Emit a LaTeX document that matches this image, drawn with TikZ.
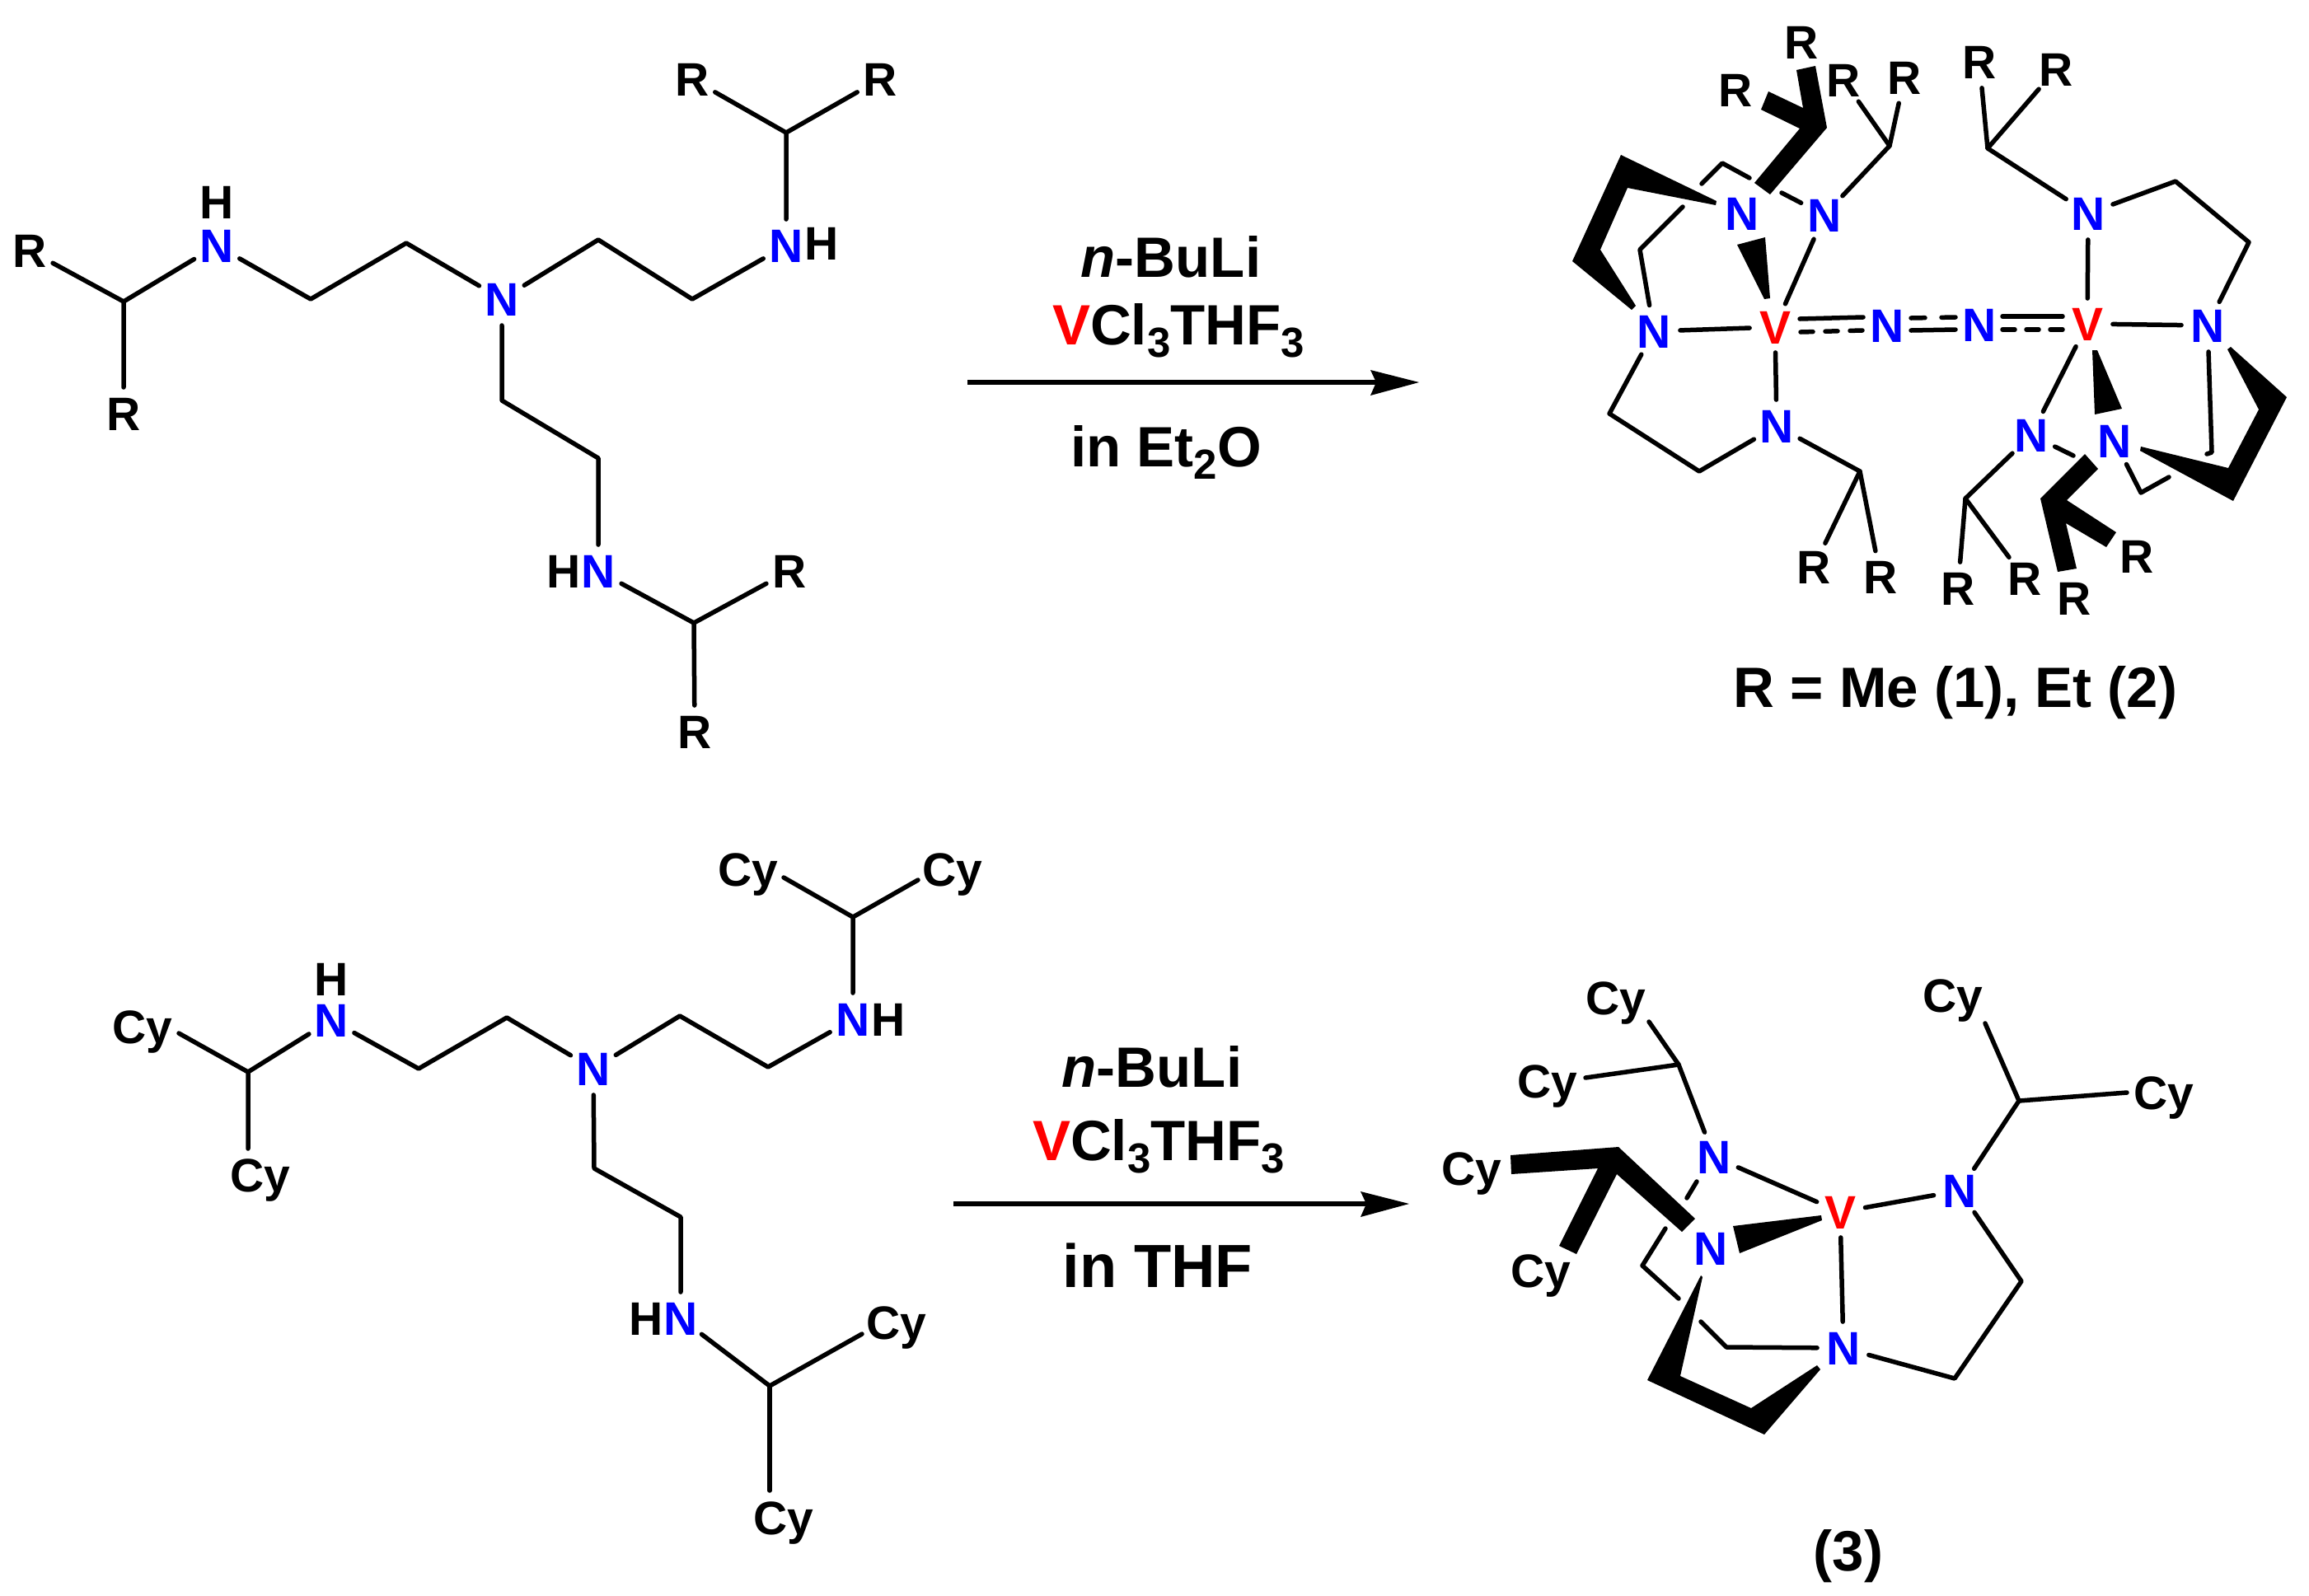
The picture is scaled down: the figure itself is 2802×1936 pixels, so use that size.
\documentclass[tikz,border=0pt]{standalone}
\usepackage{fontspec}
\setmainfont{Liberation Sans}
\tikzset{
  atom/.style={circle,inner sep=0pt,outer sep=3pt,text height=41pt,text depth=0pt,align=center,
    font=\fontsize{57}{60}\selectfont\bfseries},
  natom/.style={atom,text=blue},
  vatom/.style={atom,text=red},
  bond/.style={line width=5.5pt,line cap=round,line join=round},
  rxn/.style={anchor=base,inner sep=0pt,font=\fontsize{69}{72}\selectfont\bfseries},
  rxnarrow/.style={line width=6.5pt}
}
\newcommand{\subnum}[1]{\raisebox{-15pt}{\fontsize{51}{51}\selectfont #1}}
\begin{document}
\begin{tikzpicture}[x=1pt,y=-1pt]
\useasboundingbox (0,0) rectangle (2802,1936);
% ---------- ligand A
\node[atom] (ar1) at (36,304) {R};
\node[atom] (ar2) at (150,502) {R};
\node[atom] (ah1) at (263,245) {H};
\node[natom] (an1) at (263,298) {N};
\node[natom] (anc) at (609,363) {N};
\node[natom] (an2) at (954,298) {N};
\node[atom] (ah2) at (997,295) {H};
\node[atom] (ar3) at (840,96) {R};
\node[atom] (ar4) at (1068,96) {R};
\node[atom] (ah3) at (684,693) {H};
\node[natom] (an3) at (726,693) {N};
\node[atom] (ar5) at (958,693) {R};
\node[atom] (ar6) at (843,888) {R};
\coordinate (ac1) at (150,366);
\coordinate (ac2) at (377,363);
\coordinate (ac3) at (493,295);
\coordinate (ac4) at (726,291);
\coordinate (ac5) at (840,363);
\coordinate (ac6) at (954,161);
\coordinate (ac7) at (609,486);
\coordinate (ac8) at (726,556);
\coordinate (ac9) at (842,756);
\draw[bond] (ar1) -- (ac1) -- (ar2);
\draw[bond] (ac1) -- (an1);
\draw[bond] (an1) -- (ac2) -- (ac3) -- (anc);
\draw[bond] (anc) -- (ac4) -- (ac5) -- (an2);
\draw[bond] (an2) -- (ac6) -- (ar3);
\draw[bond] (ac6) -- (ar4);
\draw[bond] (anc) -- (ac7) -- (ac8) -- (an3);
\draw[bond] (an3) -- (ac9) -- (ar5);
\draw[bond] (ac9) -- (ar6);
% ---------- arrow 1
\node[rxn] (t1a) at (1421,336) {\textit{n}-BuLi};
\node[rxn] (t1b) at (1430,418) {{\color{red}V}Cl\subnum{3}THF\subnum{3}};
\node[rxn] (t1c) at (1415,566) {in Et\subnum{2}O};
\coordinate (a1s) at (1174,464);
\coordinate (a1e) at (1670,464);
\draw[rxnarrow] (a1s) -- (a1e);
\fill (1722,464) -- (1663,449) -- (1670,464) -- (1663,480) -- cycle;
% ---------- complex 1, left
\node[natom] (na) at (2114,259) {N};
\node[natom] (nb) at (2214,261) {N};
\node[vatom] (v1) at (2154,397) {V};
\node[natom] (nc) at (2007,402) {N};
\node[natom] (nd) at (2290,395) {N};
\node[natom] (ne) at (2156,517) {N};
\node[atom] (r1) at (2186,51) {R};
\node[atom] (r2) at (2106,109) {R};
\node[atom] (r3) at (2237,97) {R};
\node[atom] (r4) at (2311,94) {R};
\node[atom] (r5) at (2201,688) {R};
\node[atom] (r6) at (2282,700) {R};
\coordinate (c1) at (2293,177);
\coordinate (c2) at (2257,572);
\coordinate (c3) at (2062,572);
\coordinate (c4) at (1953,502);
\coordinate (c5) at (1990,303);
\coordinate (s1) at (2042,251);
\coordinate (s2) at (2065,223);
\coordinate (s3) at (2090,198);
\coordinate (s4) at (2123,216);
\coordinate (s5) at (2162,234);
\coordinate (dbl1) at (2184,387);
\coordinate (dbl2) at (2261,385);
\coordinate (dbl3) at (2185,403);
\coordinate (dbl4) at (2260,401);
\fill (1967,188) -- (2083,244) -- (2082,249) -- (1975,228) -- (1942,303) -- (1985,371) -- (1980,376) -- (1908,317) -- cycle;
\fill (2180,85) -- (2203,80) -- (2217,155) -- (2148,236) -- (2129,222) -- (2184,156) -- (2137,133) -- (2146,111) -- (2188,131) -- cycle;
\fill (2108,297) -- (2142,288) -- (2148,362) -- (2141,363) -- cycle;
\draw[bond] (s2) -- (s3) -- (s4);
\draw[bond] (s5) -- (nb);
\draw[bond] (nb) -- (c1) -- (r4);
\draw[bond] (c1) -- (r3);
\draw[bond] (nb) -- (v1);
\draw[bond] (nc) -- (v1);
\draw[bond] (s1) -- (c5) -- (nc);
\draw[bond] (nc) -- (c4) -- (c3) -- (ne);
\draw[bond] (v1) -- (ne);
\draw[bond] (ne) -- (c2) -- (r5);
\draw[bond] (c2) -- (r6);
\draw[bond] (dbl1) -- (dbl2);
\draw[bond,dash pattern=on 15pt off 15pt] (dbl3) -- (dbl4);
% ---------- N=N
\node[natom] (nf) at (2402,394) {N};
\coordinate (dbl5) at (2319,386);
\coordinate (dbl6) at (2373,385);
\coordinate (dbl7) at (2319,401);
\coordinate (dbl8) at (2373,400);
\draw[bond,dash pattern=on 17pt off 20pt] (dbl5) -- (dbl6);
\draw[bond] (dbl7) -- (dbl8);
% ---------- complex 1, right
\node[vatom] (v2) at (2533,393) {V};
\node[natom] (ng) at (2534,259) {N};
\node[natom] (nh) at (2679,395) {N};
\node[natom] (ni) at (2465,528) {N};
\node[natom] (nj) at (2566,535) {N};
\node[atom] (r7) at (2402,75) {R};
\node[atom] (r8) at (2495,84) {R};
\node[atom] (r9) at (2593,675) {R};
\node[atom] (r10) at (2517,726) {R};
\node[atom] (r11) at (2457,702) {R};
\node[atom] (r12) at (2376,714) {R};
\coordinate (d1) at (2412,180);
\coordinate (d2) at (2640,220);
\coordinate (d3) at (2729,294);
\coordinate (d4) at (2385,605);
\coordinate (d5) at (2684,549);
\coordinate (d6) at (2678,551);
\coordinate (d7) at (2632,579);
\coordinate (d8) at (2598,598);
\coordinate (d9) at (2516,553);
\coordinate (dbl9) at (2430,384);
\coordinate (dbl10) at (2503,384);
\coordinate (dbl11) at (2430,400);
\coordinate (dbl12) at (2503,400);
\draw[bond] (dbl9) -- (dbl10);
\draw[bond,dash pattern=on 15pt off 14pt] (dbl11) -- (dbl12);
\draw[bond] (r7) -- (d1) -- (r8);
\draw[bond] (d1) -- (ng);
\draw[bond] (ng) -- (d2) -- (d3) -- (nh);
\draw[bond] (ng) -- (v2);
\draw[bond] (v2) -- (nh);
\draw[bond] (v2) -- (ni);
\fill (2539,425) -- (2545,425) -- (2575,496) -- (2542,503) -- cycle;
\fill (2703,424) -- (2707,421) -- (2775,482) -- (2710,608) -- (2597,547) -- (2598,542) -- (2704,568) -- (2741,497) -- cycle;
\draw[bond] (nh) -- (d5) -- (d6);
\draw[bond] (d7) -- (d8) -- (nj);
\draw[bond] (ni) -- (d9);
\fill (2530,551) -- (2546,569) -- (2508,607) -- (2568,646) -- (2556,664) -- (2507,635) -- (2520,690) -- (2497,694) -- (2476,605) -- cycle;
\draw[bond] (ni) -- (d4) -- (r12);
\draw[bond] (d4) -- (r11);
\node[rxn] (t1d) at (2373,858) {R = Me (1), Et (2)};
% ---------- ligand B
\node[atom] (bc1) at (173,1246) {Cy};
\node[atom] (bc2) at (316,1426) {Cy};
\node[atom] (bc3) at (908,1055) {Cy};
\node[atom] (bc4) at (1156,1055) {Cy};
\node[atom] (bc5) at (1088,1605) {Cy};
\node[atom] (bc6) at (951,1842) {Cy};
\node[atom] (bh1) at (402,1188) {H};
\node[natom] (bn1) at (402,1238) {N};
\node[natom] (bnc) at (720,1297) {N};
\node[natom] (bn2) at (1035,1237) {N};
\node[atom] (bh2) at (1078,1237) {H};
\node[atom] (bh3) at (784,1600) {H};
\node[natom] (bn3) at (826,1600) {N};
\coordinate (be1) at (301,1301);
\coordinate (be1a) at (217,1254);
\coordinate (be1b) at (301,1394);
\coordinate (be2) at (508,1297);
\coordinate (be3) at (615,1235);
\coordinate (be4) at (825,1233);
\coordinate (be5) at (932,1295);
\coordinate (be6) at (1035,1113);
\coordinate (be6a) at (951,1065);
\coordinate (be6b) at (1114,1068);
\coordinate (be7) at (721,1418);
\coordinate (be8) at (826,1477);
\coordinate (be9) at (934,1682);
\coordinate (be9a) at (1046,1619);
\coordinate (be9b) at (934,1809);
\draw[bond] (be1a) -- (be1) -- (be1b);
\draw[bond] (be1) -- (bn1);
\draw[bond] (bn1) -- (be2) -- (be3) -- (bnc);
\draw[bond] (bnc) -- (be4) -- (be5) -- (bn2);
\draw[bond] (bn2) -- (be6) -- (be6a);
\draw[bond] (be6) -- (be6b);
\draw[bond] (bnc) -- (be7) -- (be8) -- (bn3);
\draw[bond] (bn3) -- (be9) -- (be9a);
\draw[bond] (be9) -- (be9b);
% ---------- arrow 2
\node[rxn] (t2a) at (1398,1319) {\textit{n}-BuLi};
\node[rxn] (t2b) at (1406,1408) {{\color{red}V}Cl\subnum{3}THF\subnum{3}};
\node[rxn,font=\fontsize{74}{77}\selectfont\bfseries] (t2c) at (1405,1562) {in THF};
\coordinate (a2s) at (1157,1461);
\coordinate (a2e) at (1658,1461);
\draw[rxnarrow] (a2s) -- (a2e);
\fill (1710,1461) -- (1651,1446) -- (1658,1461) -- (1651,1477) -- cycle;
% ---------- complex 3
\node[vatom] (cv) at (2233,1471) {V};
\node[natom] (cna) at (2080,1404) {N};
\node[natom] (cnb) at (2076,1515) {N};
\node[natom] (cnc) at (2378,1445) {N};
\node[natom] (cnd) at (2237,1636) {N};
\node[atom] (cy1) at (1961,1211) {Cy};
\node[atom] (cy2) at (1878,1312) {Cy};
\node[atom] (cy3) at (1786,1418) {Cy};
\node[atom] (cy4) at (1870,1542) {Cy};
\node[atom] (cy5) at (2370,1208) {Cy};
\node[atom] (cy6) at (2626,1326) {Cy};
\coordinate (f0a) at (2001,1240);
\coordinate (f0b) at (1924,1308);
\coordinate (f1) at (2037,1292);
\coordinate (f2) at (2059,1434);
\coordinate (f3) at (2047,1454);
\coordinate (f4) at (2021,1491);
\coordinate (f5) at (1993,1536);
\coordinate (f6) at (2037,1576);
\coordinate (f7) at (2064,1604);
\coordinate (f8) at (2095,1635);
\coordinate (f9) at (2450,1336);
\coordinate (f9a) at (2409,1242);
\coordinate (f9b) at (2581,1326);
\coordinate (f10) at (2453,1555);
\coordinate (f11) at (2372,1673);
\draw[bond] (f0a) -- (f1) -- (f0b);
\draw[bond] (f1) -- (cna);
\draw[bond] (cna) -- (cv);
\draw[bond] (f2) -- (f3);
\fill (1833,1402) -- (1964,1392) -- (2057,1479) -- (2041,1495) -- (1962,1425) -- (1913,1522) -- (1892,1512) -- (1939,1418) -- (1834,1425) -- cycle;
\fill (2103,1488) -- (2210,1475) -- (2211,1481) -- (2111,1521) -- cycle;
\draw[bond] (f4) -- (f5) -- (f6);
\draw[bond] (f7) -- (f8) -- (cnd);
\fill (2064,1548) -- (1999,1675) -- (2141,1741) -- (2209,1662) -- (2205,1657) -- (2125,1709) -- (2039,1670) -- (2066,1550) -- cycle;
\draw[bond] (cv) -- (cnd);
\draw[bond] (cv) -- (cnc);
\draw[bond] (cnc) -- (f9) -- (f9a);
\draw[bond] (f9) -- (f9b);
\draw[bond] (cnc) -- (f10) -- (f11) -- (cnd);
\node[rxn] (t3) at (2243,1906) {(3)};
\end{tikzpicture}
\end{document}
